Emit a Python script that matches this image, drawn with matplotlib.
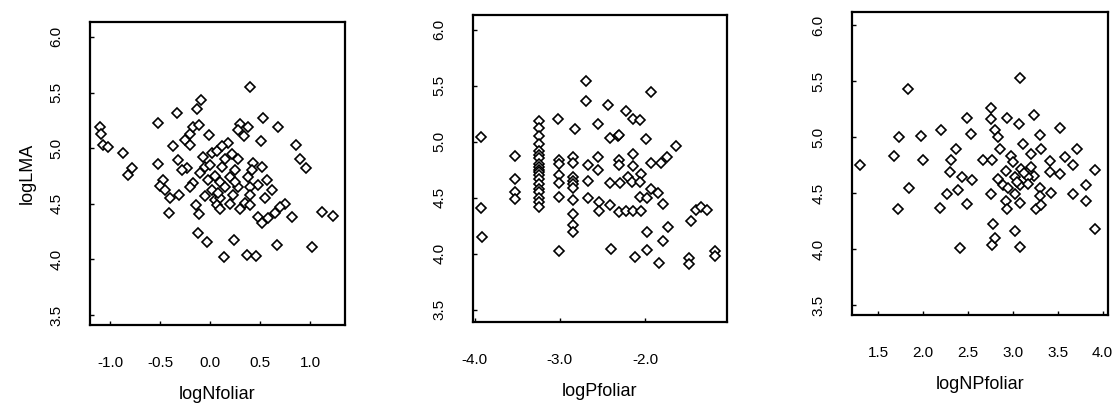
import matplotlib
matplotlib.use("Agg")
import matplotlib.pyplot as plt

plt.rcParams['font.family'] = ['Liberation Sans', 'DejaVu Sans']

# shared response
# panel 1: logNfoliar vs logLMA
n_x = [-1.10, -1.09, -1.07, -1.02, -0.87, -0.78, -0.82, -0.52, -0.33, -0.13,
       -0.09, -0.37, -0.52, -0.47, -0.50, -0.45, -0.40, -0.31, -0.41, -0.32,
       -0.23, -0.25, -0.20, -0.17, -0.11, -0.01, -0.20, -0.28, -0.17, -0.20,
       -0.10, -0.07, 0.02, 0.07, -0.05, -0.02, 0.02, 0.05, -0.14, -0.11,
       -0.12, -0.03, 0.40, 0.53, 0.68, 0.30, 0.38, 0.34, 0.28, 0.51,
       0.86, 0.90, 0.96, 0.18, 0.12, 0.22, 0.28, 0.43, 0.52, 0.42,
       0.25, 0.12, 0.20, 0.38, 0.57, 0.48, 0.40, 0.28, 0.62, 0.55,
       0.40, 0.23, 0.20, 0.35, 0.40, 0.10, 0.07, 0.75, 0.70, 0.65,
       0.58, 0.48, 0.52, 0.82, 1.12, 1.23, 0.24, 0.67, 1.02, 0.14,
       0.37, 0.46, 0.00, 0.05, 0.10, 0.15, 0.08, -0.05, 0.15, 0.10,
       0.30, 0.25]
n_y = [5.19, 5.13, 5.03, 5.01, 4.96, 4.82, 4.76, 5.23, 5.32, 5.35,
       5.43, 5.02, 4.86, 4.71, 4.66, 4.62, 4.55, 4.58, 4.42, 4.89,
       4.82, 5.07, 5.13, 5.19, 5.21, 5.12, 5.03, 4.80, 4.69, 4.65,
       4.78, 4.92, 4.96, 4.97, 4.83, 4.71, 4.62, 4.53, 4.49, 4.41,
       4.24, 4.16, 5.55, 5.27, 5.19, 5.22, 5.19, 5.11, 5.16, 5.06,
       5.03, 4.90, 4.82, 5.05, 5.02, 4.95, 4.90, 4.87, 4.83, 4.80,
       4.80, 4.83, 4.74, 4.74, 4.71, 4.67, 4.65, 4.65, 4.62, 4.55,
       4.58, 4.58, 4.50, 4.51, 4.49, 4.55, 4.49, 4.50, 4.47, 4.42,
       4.37, 4.38, 4.33, 4.38, 4.43, 4.39, 4.17, 4.13, 4.11, 4.02,
       4.04, 4.03, 4.85, 4.75, 4.70, 4.65, 4.60, 4.57, 4.90, 4.45,
       4.45, 4.70]

# panel 2: logPfoliar vs logLMA
p_x = [-3.93, -3.93, -3.92, -3.53, -3.53, -3.53, -3.53,
       -3.24, -3.24, -3.24, -3.24, -3.24, -3.24, -3.24, -3.24, -3.24, -3.24,
       -3.24, -3.24, -3.24, -3.24, -3.24, -3.24, -3.24, -3.24, -3.24,
       -3.02, -3.01, -3.01, -3.01, -3.01, -3.01, -3.01,
       -2.82, -2.85, -2.85, -2.85, -2.85, -2.85, -2.85, -2.85, -2.85, -2.85, -2.85,
       -2.69, -2.69, -2.55, -2.67, -2.67, -2.67, -2.55, -2.55, -2.54, -2.54,
       -2.44, -2.22, -2.14, -2.06, -1.93, -2.41, -2.32, -2.31, -1.99, -1.64,
       -2.31, -2.31, -2.14, -2.14, -1.93, -1.81, -1.74, -2.05, -2.20, -2.16,
       -2.06, -2.41, -2.29, -2.06, -1.93, -1.85, -1.98, -1.79, -2.41, -2.31,
       -2.22, -2.14, -2.05, -1.73, -1.98, -1.79, -1.46, -1.40, -1.35, -1.28,
       -2.40, -2.12, -1.98, -1.84, -1.49, -1.49, -1.18, -1.18]
p_y = [5.04, 4.41, 4.15, 4.87, 4.67, 4.55, 4.49,
       5.18, 5.12, 5.05, 4.98, 4.92, 4.88, 4.85, 4.80, 4.77, 4.75,
       4.73, 4.70, 4.67, 4.62, 4.58, 4.55, 4.50, 4.46, 4.42,
       5.20, 4.84, 4.80, 4.70, 4.63, 4.51, 4.02,
       5.11, 4.86, 4.81, 4.68, 4.65, 4.62, 4.59, 4.48, 4.35, 4.26, 4.19,
       5.54, 5.36, 5.16, 4.79, 4.65, 4.50, 4.86, 4.75, 4.46, 4.38,
       5.33, 5.27, 5.20, 5.19, 5.44, 5.03, 5.05, 5.06, 5.02, 4.96,
       4.84, 4.79, 4.89, 4.78, 4.81, 4.81, 4.86, 4.71, 4.68, 4.64,
       4.64, 4.63, 4.63, 4.51, 4.58, 4.54, 4.50, 4.44, 4.43, 4.37,
       4.38, 4.38, 4.38, 4.24, 4.19, 4.11, 4.29, 4.39, 4.42, 4.39,
       4.04, 3.97, 4.03, 3.92, 3.96, 3.91, 4.02, 3.98]

# panel 3: logNPfoliar vs logLMA
np_x = [1.30, 1.83, 1.73, 1.68, 1.84, 1.72, 1.98, 2.00, 2.20, 2.19,
        2.49, 2.54, 2.37, 2.31, 2.30, 2.44, 2.55, 2.27, 2.39, 2.49,
        2.41, 3.08, 2.76, 2.76, 2.93, 3.07, 3.24, 3.52, 3.30, 2.80,
        2.84, 3.11, 2.86, 3.31, 3.72, 2.67, 2.77, 2.98, 3.20, 3.41,
        3.58, 3.67, 3.91, 3.52, 3.41, 2.92, 3.09, 3.20, 3.24, 3.17,
        3.02, 2.83, 2.89, 3.08, 3.17, 2.76, 3.02, 3.30, 3.42, 3.67,
        3.81, 3.81, 3.30, 2.92, 3.08, 2.94, 3.26, 3.31, 2.78, 3.02,
        2.77, 2.80, 3.08, 3.91, 3.00, 3.13, 3.05, 2.95]
np_y = [4.75, 5.43, 5.00, 4.83, 4.55, 4.36, 5.01, 4.80, 5.06, 4.37,
        5.17, 5.03, 4.89, 4.80, 4.69, 4.64, 4.62, 4.49, 4.53, 4.40,
        4.01, 5.53, 5.26, 5.16, 5.17, 5.12, 5.20, 5.08, 5.02, 5.06,
        5.00, 4.94, 4.89, 4.89, 4.89, 4.80, 4.80, 4.83, 4.85, 4.79,
        4.82, 4.75, 4.71, 4.67, 4.69, 4.70, 4.72, 4.73, 4.65, 4.64,
        4.64, 4.63, 4.57, 4.57, 4.58, 4.49, 4.49, 4.55, 4.50, 4.49,
        4.57, 4.43, 4.47, 4.43, 4.41, 4.36, 4.36, 4.39, 4.22, 4.16,
        4.04, 4.10, 4.02, 4.18, 4.78, 4.68, 4.60, 4.55]

y_ticks = [3.5, 4.0, 4.5, 5.0, 5.5, 6.0]

panels = [
    ([0.0804, 0.2054, 0.2277, 0.741], n_x, n_y, 'logNfoliar',
     (-1.20, 1.35), (3.41, 6.135), [-1.0, -0.5, 0.0, 0.5, 1.0]),
    ([0.4223, 0.2127, 0.2268, 0.7506], p_x, p_y, 'logPfoliar',
     (-4.02, -1.04), (3.39, 6.13), [-4.0, -3.0, -2.0]),
    ([0.7607, 0.2298, 0.2286, 0.741], np_x, np_y, 'logNPfoliar',
     (1.21, 4.06), (3.41, 6.12), [1.5, 2.0, 2.5, 3.0, 3.5, 4.0]),
]

fig = plt.figure(figsize=(11.2, 4.09), dpi=100)

for i, (rect, xs, ys, xlab, xlim, ylim, xt) in enumerate(panels):
    ax = fig.add_axes(rect)
    ax.plot(xs, ys, linestyle='none', marker='D', ms=5.5, mfc='white',
            mec='black', mew=1.2)
    ax.set_xlim(*xlim)
    ax.set_ylim(*ylim)
    ax.set_xticks(xt)
    ax.set_xticklabels([f'{v:.1f}' for v in xt])
    ax.set_yticks(y_ticks)
    ax.set_yticklabels([f'{v:.1f}' for v in y_ticks], rotation=90, va='center')
    ax.tick_params(direction='in', length=3, width=1, labelsize=11,
                   pad=19)
    ax.tick_params(axis='x', pad=22)
    for s in ax.spines.values():
        s.set_linewidth(1.6)
    ax.set_xlabel(xlab, fontsize=13, labelpad=12)
    if i == 0:
        ax.set_ylabel('logLMA', fontsize=13, labelpad=10)

fig.savefig('out.png', dpi=100)
